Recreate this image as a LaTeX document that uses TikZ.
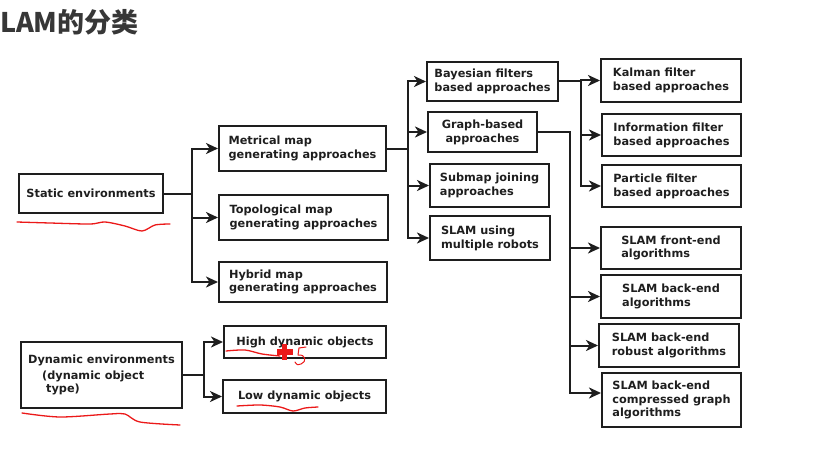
\documentclass[tikz,border=0pt]{standalone}
\usepackage{fontspec}
\usetikzlibrary{positioning,arrows.meta,calc}
\newfontfamily\slfont{DejaVu Sans}
\newfontfamily\cjkfont{Noto Sans CJK SC}
\definecolor{slink}{RGB}{30,30,30}
\definecolor{sltitle}{RGB}{55,55,55}
\definecolor{slred}{RGB}{235,25,25}
\tikzset{
  sl/.style={font=\slfont\bfseries\fontsize{11.3}{13.8}\selectfont, text=slink},
  slbox/.style 2 args={
    sl, draw=slink, line width=2pt, align=left, inner sep=3pt,
    minimum width=#1, minimum height=#2
  },
  slarr/.style={-{Stealth[length=12pt,width=11pt,inset=3.5pt]}, line width=2pt, draw=slink},
  slmark/.style={draw=slred, line width=1.3pt, line cap=round, line join=round},
}

\begin{document}
\begin{tikzpicture}[x=1pt, y=-1pt, sl]
    \useasboundingbox (0,0) rectangle (833,460);
    \node[font=\cjkfont\bfseries\fontsize{27}{27}\selectfont, text=sltitle, anchor=base west, inner sep=0pt] (title) at (0,33) {LAM的分类};

    % Environments
    \node[slbox={144pt}{39pt}] (static) at (91,193.5) {Static environments};
    \node[slbox={161pt}{66pt}] (dynamic) at (101.5,375)
      {Dynamic environments\\[2pt]\hspace*{14pt}(dynamic object\\\hspace*{18pt}type)};

    % Map types
    \node[slbox={167pt}{45pt}] (metric) at (302.5,148.5) {Metrical map\\generating approaches};
    \node[slbox={169pt}{45pt}] (topo) at (303.5,217.5) {Topological map\\generating approaches};
    \node[slbox={168pt}{40pt}] (hybrid) at (303,282) {Hybrid map\\generating approaches};
    \node[slbox={162pt}{32pt}] (high) at (305,342) {High dynamic objects};
    \node[slbox={163pt}{33pt}] (low) at (304.5,396.5) {Low dynamic objects};

    % Metrical approaches
    \node[slbox={131pt}{39pt}] (bayes) at (492.5,81.5) {Bayesian filters\\based approaches};
    \node[slbox={109pt}{40pt}, align=center] (graph) at (482.5,132) {Graph-based\\approaches};
    \node[slbox={119pt}{43pt}] (submap) at (489.5,185.5) {Submap joining\\approaches};
    \node[slbox={120pt}{44pt}] (multi) at (490,238) {SLAM using\\multiple robots};

    % Filters
    \node[slbox={140pt}{43pt}] (kalman) at (671,80.5) {Kalman filter\\based approaches};
    \node[slbox={139pt}{42pt}] (info) at (671.5,135) {Information filter\\based approaches};
    \node[slbox={139pt}{42pt}] (particle) at (671.5,186) {Particle filter\\based approaches};

    % Graph-based
    \node[slbox={140pt}{42pt}] (front) at (671,248) {SLAM front-end\\algorithms};
    \node[slbox={140pt}{43pt}] (back) at (671,296.5) {SLAM back-end\\algorithms};
    \node[slbox={140pt}{43pt}] (robust) at (669,345.5) {SLAM back-end\\robust algorithms};
    \node[slbox={139pt}{54pt}] (compressed) at (671.5,400) {SLAM back-end\\compressed graph\\algorithms};

    \coordinate (sj) at ($(static.east)+(28,0)$);
    \coordinate (dj) at ($(dynamic.east)+(21,0)$);
    \coordinate (mj) at ($(metric.east)+(21,0)$);
    \coordinate (bj) at ($(bayes.east)+(22,0)$);
    \coordinate (gj) at ($(graph.east)+(32,0)$);

    \foreach \n in {metric,topo,hybrid} \draw[slarr] (static.east) -- (sj) |- (\n.west);
    \foreach \n in {high,low} \draw[slarr] (dynamic.east) -- (dj) |- (\n.west);
    \foreach \n in {bayes,graph,submap,multi} \draw[slarr] (metric.east) -- (mj) |- (\n.west);
    \foreach \n in {kalman,info,particle} \draw[slarr] (bayes.east) -- (bj) |- (\n.west);
    \foreach \n in {front,back,robust} \draw[slarr] (graph.east) -- (gj) |- (\n.west);
    \draw[slarr] (graph.east) -- (gj) |- ([yshift=7pt]compressed.west);

    % hand marks
    \draw[slmark] plot[smooth] coordinates {(17,222) (50,223) (90,224) (105,222) (125,226) (142,231) (155,225) (170,224)};
    \draw[slmark] plot[smooth] coordinates {(22,413) (60,417) (110,414) (125,414) (140,422) (180,425)};
    \draw[slmark] plot[smooth] coordinates {(226,351) (245,350) (262,354) (280,356)};
    \draw[slmark] plot[smooth] coordinates {(237,406) (260,405) (280,407) (293,411) (305,408) (318,407)};
    \fill[slred] (284.5,352) +(-2.8,-8) rectangle +(2.8,8);
    \fill[slred] (284.5,352) +(-8,-2.8) rectangle +(8,2.8);
    \draw[slmark, line width=1pt] (306,347) -- (299,348) -- (298,355) .. controls (306,354) and (307,362) .. (301,364) .. controls (297,365) .. (295,362);
  \end{tikzpicture}
\end{document}
